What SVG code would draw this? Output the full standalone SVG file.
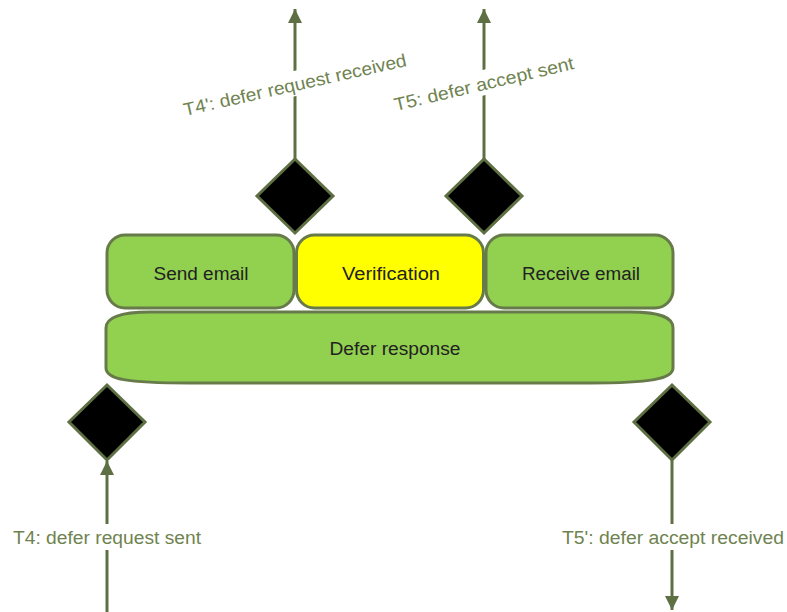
<svg xmlns="http://www.w3.org/2000/svg" width="787" height="612" viewBox="0 0 787 612">
<style>
.box{stroke:#667A4A;stroke-width:3}
.g{fill:#92D050}
.y{fill:#FFFF00}
.dia{fill:#000;stroke:#5E7043;stroke-width:3}
.ln{stroke:#5E7043;stroke-width:3;fill:none}
.nt{font-family:"Liberation Sans",Arial,sans-serif;font-size:18px;fill:#222;text-anchor:middle}
.lb{font-family:"Liberation Sans",Arial,sans-serif;font-size:18px;fill:#6F8350;text-anchor:middle}
.bg{fill:#fff}
</style>
<defs>
<marker id="ah" markerUnits="userSpaceOnUse" markerWidth="15" markerHeight="15" refX="14" refY="7" orient="auto">
<path d="M0,0 L14,7 L0,14 Z" fill="#5E7043"/>
</marker>
</defs>
<g id="connectors">
<line class="ln" x1="295" y1="159" x2="295" y2="9" marker-end="url(#ah)"/>
<line class="ln" x1="484" y1="159" x2="484" y2="9" marker-end="url(#ah)"/>
<line class="ln" x1="107" y1="612" x2="107" y2="461" marker-end="url(#ah)"/>
<line class="ln" x1="672" y1="460" x2="672" y2="610" marker-end="url(#ah)"/>
<g transform="translate(295,85) rotate(-12.7)">
<rect class="bg" x="-117" y="-14" width="234" height="25"/>
<text class="lb" x="0" y="6" textLength="228" lengthAdjust="spacingAndGlyphs">T4': defer request received</text>
</g>
<g transform="translate(484,84) rotate(-13.3)">
<rect class="bg" x="-95" y="-14" width="190" height="25"/>
<text class="lb" x="0" y="6" textLength="184" lengthAdjust="spacingAndGlyphs">T5: defer accept sent</text>
</g>
<rect class="bg" x="10" y="524" width="194" height="26"/>
<text class="lb" x="107" y="544" textLength="188" lengthAdjust="spacingAndGlyphs">T4: defer request sent</text>
<rect class="bg" x="560" y="524" width="226" height="26"/>
<text class="lb" x="673" y="544" textLength="222" lengthAdjust="spacingAndGlyphs">T5': defer accept received</text>
</g>
<g id="defer-response">
<path class="box g" d="M150,312 H630 C662,312 673,318 673,328 V368 C673,379 650,383 590,383 H190 C125,383 106,379 106,368 V328 C106,318 118,312 150,312 Z"/>
<text class="nt" x="395" y="355" textLength="131" lengthAdjust="spacingAndGlyphs">Defer response</text>
</g>
<g id="send-email">
<rect class="box g" x="107" y="235" width="187" height="73" rx="18"/>
<text class="nt" x="201" y="280" textLength="95" lengthAdjust="spacingAndGlyphs">Send email</text>
</g>
<g id="verification">
<rect class="box y" x="296.5" y="235" width="187" height="73" rx="18"/>
<text class="nt" x="391" y="280" textLength="98" lengthAdjust="spacingAndGlyphs">Verification</text>
</g>
<g id="receive-email">
<rect class="box g" x="486" y="235" width="187" height="73" rx="18"/>
<text class="nt" x="581" y="280" textLength="118" lengthAdjust="spacingAndGlyphs">Receive email</text>
</g>
<g id="d-t4p"><polygon class="dia" points="295,159 333,196 295,233 257,196"/></g>
<g id="d-t5"><polygon class="dia" points="484,159 522,196 484,233 446,196"/></g>
<g id="d-t4"><polygon class="dia" points="107,385 145,422 107,460 69,422"/></g>
<g id="d-t5p"><polygon class="dia" points="672,385 710,422 672,460 634,422"/></g>
</svg>
